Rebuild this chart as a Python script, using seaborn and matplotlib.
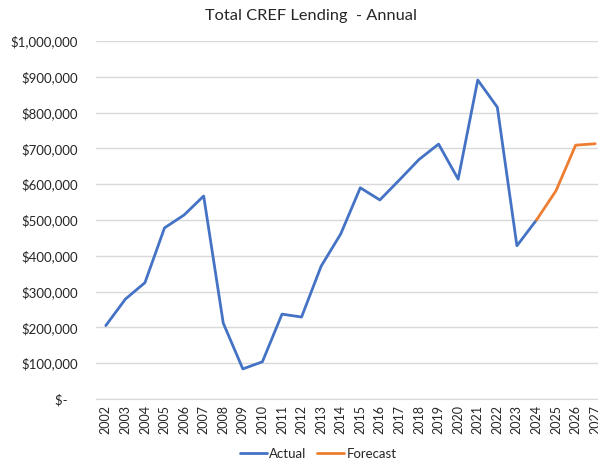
import pandas as pd
import numpy as np
import matplotlib
matplotlib.use("Agg")
import matplotlib.pyplot as plt
from matplotlib.ticker import FuncFormatter
import seaborn as sns

# values
actual_years = list(range(2002, 2025))
actual_values = [205000, 279000, 325000, 478000, 514000, 567000, 212000, 84000,
                 104000, 237000, 229000, 371000, 461000, 590000, 556000, 612000,
                 669000, 712000, 614000, 891000, 815000, 428000, 500000]
forecast_years = [2024, 2025, 2026, 2027]
forecast_values = [500000, 582000, 709000, 713000]

df = pd.DataFrame({
    "Year": actual_years + forecast_years,
    "Lending": actual_values + forecast_values,
    "Series": ["Actual"] * len(actual_years) + ["Forecast"] * len(forecast_years),
})

sns.set_style("white")
plt.rcParams["font.family"] = ["Lato", "DejaVu Sans"]

fig = plt.figure(figsize=(5.98, 4.59), dpi=100)
ax = fig.add_axes([96 / 598, 60 / 459, 509 / 598, 358 / 459])

sns.lineplot(data=df, x="Year", y="Lending", hue="Series",
             palette={"Actual": "#4472C4", "Forecast": "#ED7D31"},
             linewidth=2.0, ax=ax)

ax.set_xlim(2001.5, 2027.5)
ax.set_ylim(0, 1000000)
ax.set_xticks(range(2002, 2028))
ax.set_xticklabels([str(y) for y in range(2002, 2028)], rotation=90, fontsize=9)
ax.set_yticks(np.arange(0, 1000001, 100000))


def money(v, pos):
    if v == 0:
        return "$-   "
    return "${:,.0f}".format(v)


ax.yaxis.set_major_formatter(FuncFormatter(money))
ax.tick_params(axis="y", labelsize=9.5, length=0, pad=13)
ax.tick_params(axis="x", length=0, pad=4)
ax.grid(axis="y", color="#d9d9d9", linewidth=1)
ax.set_axisbelow(True)
for s in ["top", "right", "left"]:
    ax.spines[s].set_visible(False)
ax.spines["bottom"].set_color("#d9d9d9")
ax.set_xlabel("")
ax.set_ylabel("")

fig.text(311 / 598, 1 - 16 / 459, "Total CREF Lending  - Annual",
         ha="center", va="center", fontsize=11.8)

sns.move_legend(ax, "lower center", bbox_to_anchor=(318 / 598, -0.027),
                bbox_transform=fig.transFigure, ncol=2, frameon=False,
                title=None, fontsize=9.5, handlelength=2.05, columnspacing=0.75,
                handletextpad=0.2)

fig.savefig("out.png", dpi=100)
